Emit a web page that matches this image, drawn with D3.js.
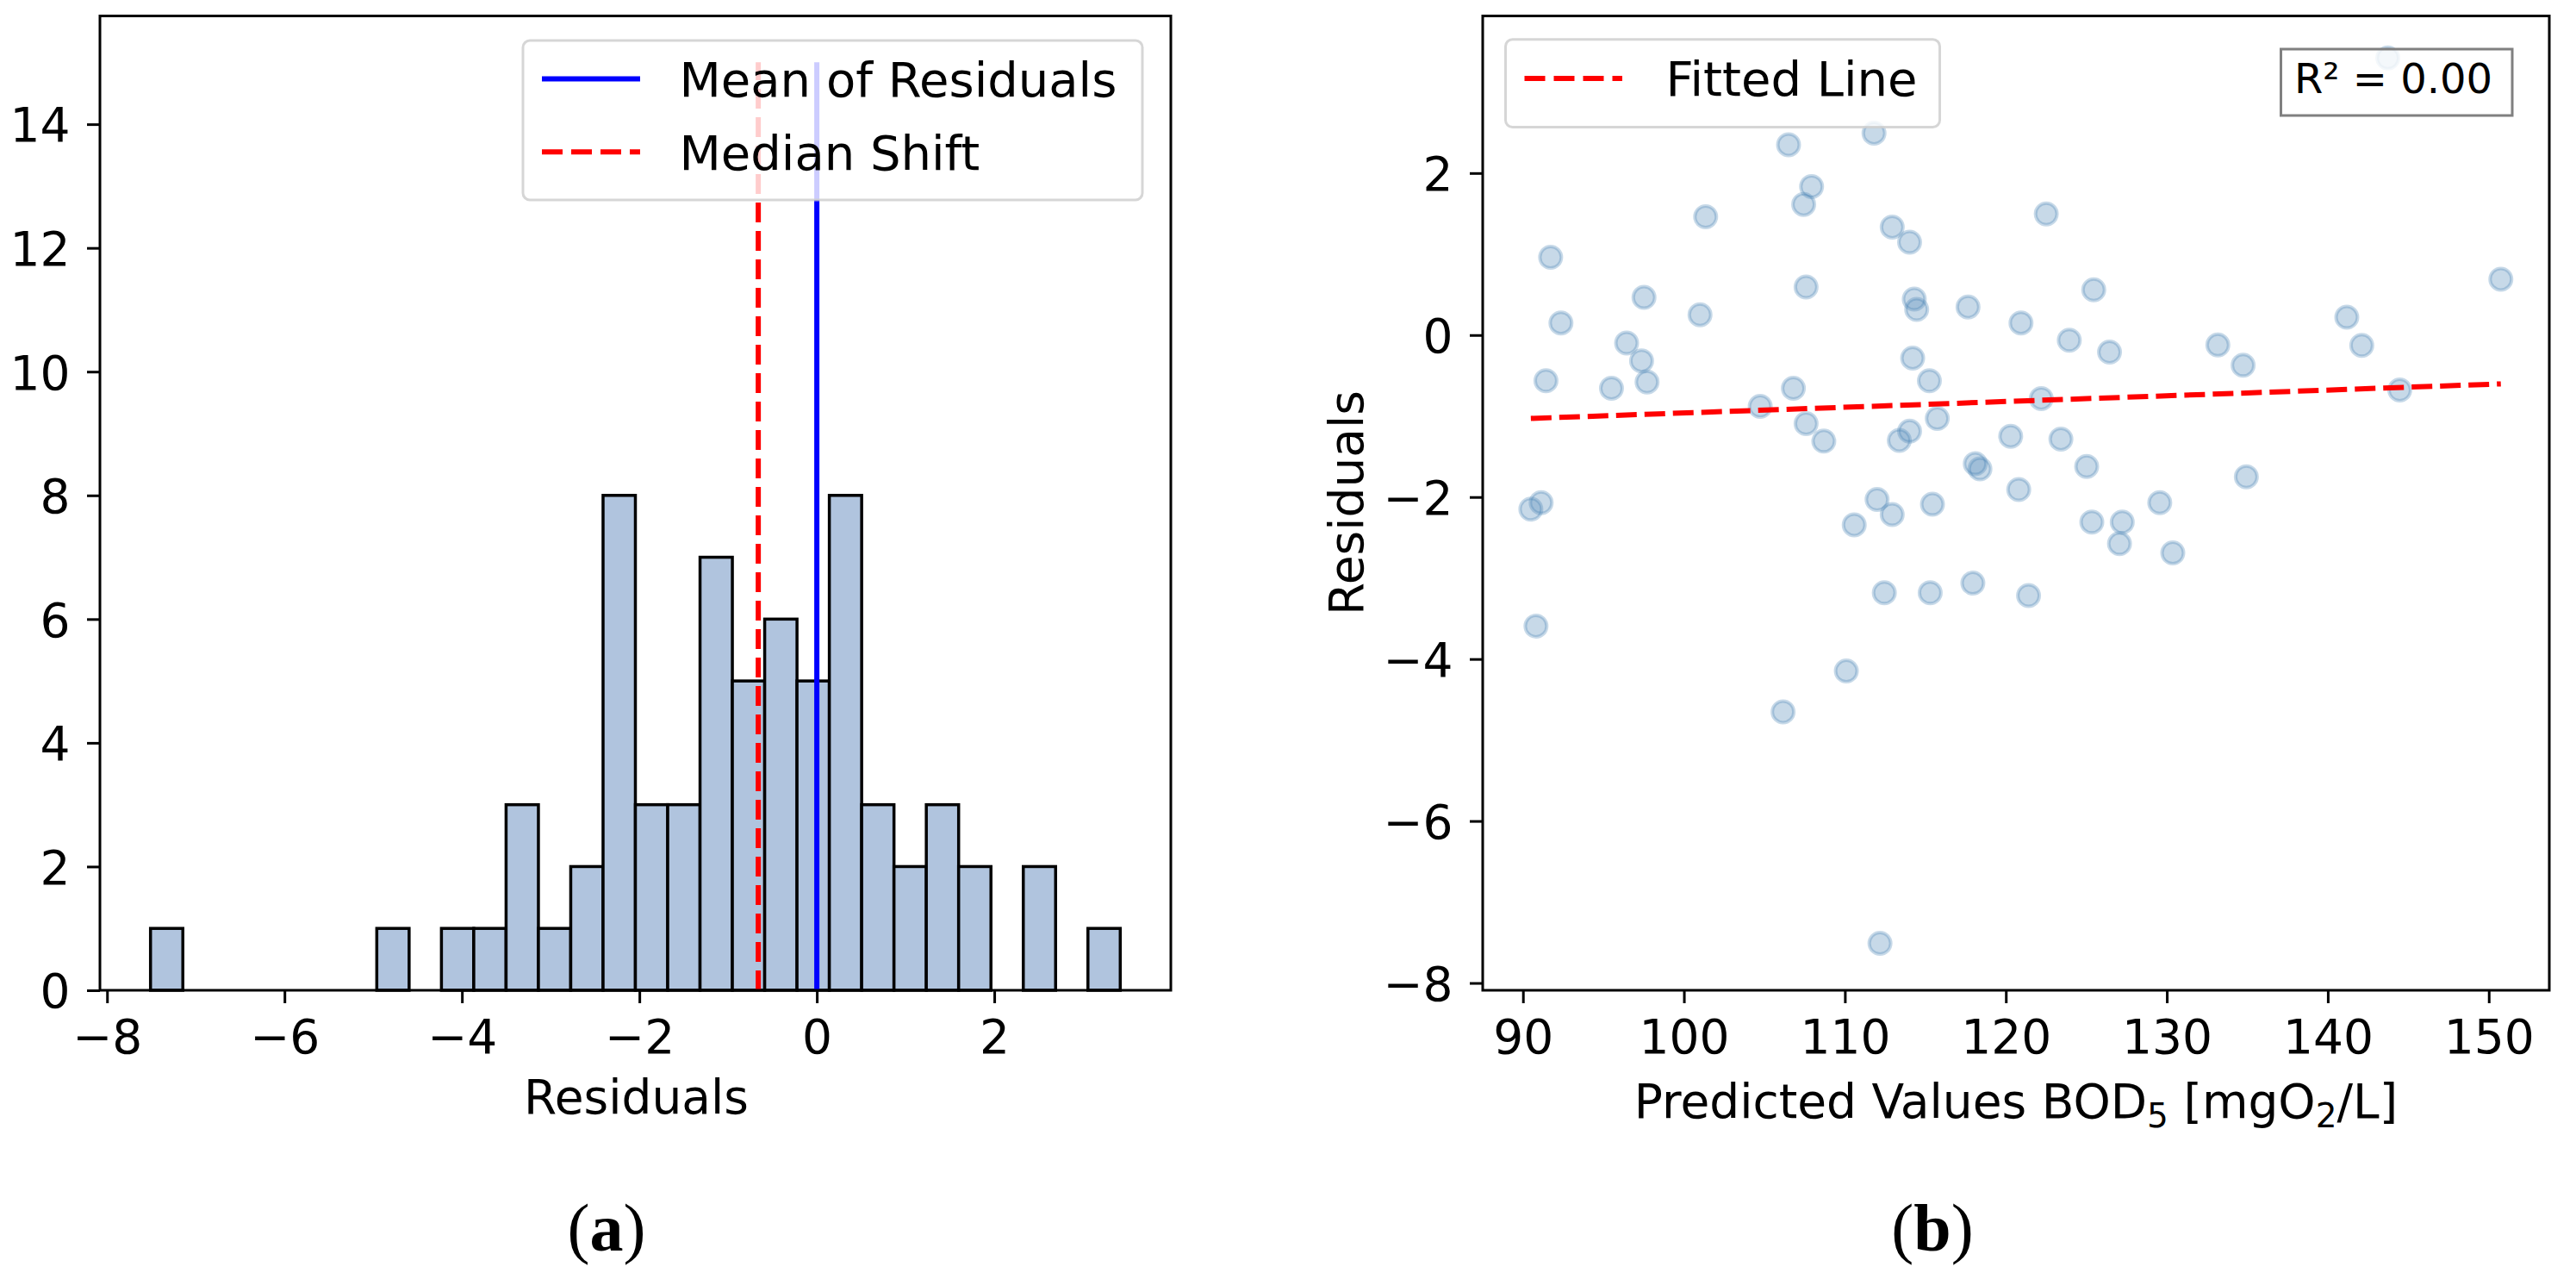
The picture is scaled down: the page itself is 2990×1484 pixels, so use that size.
<!DOCTYPE html>
<html>
<head>
<meta charset="utf-8">
<script src="https://cdn.jsdelivr.net/npm/d3@7"></script>
<style>
  html, body { margin: 0; padding: 0; background: #ffffff; }
  svg { display: block; }
</style>
</head>
<body>
<svg id="chart" width="2990" height="1484"></svg>
<script>
// ---------------- DATA ----------------
// Predicted BOD5 values (x of panel b) and their residuals (y of panel b, histogram of panel a)
const predicted = [
  91.72, 92.36, 91.43, 90.49, 91.13, 101.35, 97.52, 96.44, 97.37, 95.50,
  97.71, 101.0, 106.5, 107.93, 107.44, 107.59, 104.74, 106.8, 107.59, 108.69,
  111.81, 112.94, 114.02, 114.31, 114.46, 114.21, 115.25, 114.02, 113.38, 115.74,
  112.0, 112.94, 115.44, 110.58,
  143.73, 122.51, 150.75, 117.65, 125.46, 120.94, 123.94, 126.44, 133.17, 134.74,
  141.18, 142.11, 122.2, 144.47, 120.30, 123.42, 118.1, 118.39, 125.02, 120.8,
  134.94, 129.56, 125.34, 127.23,
  127.06, 130.37, 117.95, 121.41,
  90.81, 106.16, 110.09, 112.45, 115.3, 112.18
];
const residuals = [
  0.96, 0.15, -0.564, -2.15, -2.07, 1.461, 0.465, -0.098, -0.318, -0.657,
  -0.58, 0.25, 2.35, 1.834, 1.613, 0.593, -0.881, -0.657, -1.093, -1.31,
  2.494, 1.334, 1.147, 0.444, 0.317, -0.284, -0.564, -1.187, -1.30, -1.03,
  -2.03, -2.216, -2.089, -2.343,
  3.42, 1.495, 0.69, 0.347, 0.559, 0.15, -0.064, -0.21, -0.123, -0.373,
  0.22, -0.128, -0.784, -0.678, -1.25, -1.284, -1.589, -1.653, -1.623, -1.907,
  -1.75, -2.07, -2.309, -2.309,
  -2.576, -2.69, -3.063, -3.216,
  -3.593, -4.652, -4.148, -3.182, -3.182, -7.51
];
const histBinCount = 30;
const meanResidual = 0.0;        // blue solid line
const medianShift = -0.66;       // red dashed line
const refLineTop = 15;           // vertical lines span 0..15
const fitSlope = 0.00707;        // fitted line (panel b)
const fitIntercept = -1.669;
const rSquaredLabel = "R\u00B2 = 0.00";
const histXTicks = [-8, -6, -4, -2, 0, 2];
const histYTicks = [0, 2, 4, 6, 8, 10, 12, 14];
const scatXTicks = [90, 100, 110, 120, 130, 140, 150];
const scatYTicks = [-8, -6, -4, -2, 0, 2];
const legendA = [
  { label: "Mean of Residuals", color: "#0000ff", dash: null },
  { label: "Median Shift", color: "#ff0000", dash: "24,10" }
];
const legendB = [{ label: "Fitted Line", color: "#ff0000", dash: "24,10" }];

// ---------------- LAYOUT ----------------
const FONT = "'DejaVu Sans', sans-serif";
const FS = 55;
const svg = d3.select("#chart");

const panelA = { left: 116, right: 1359, top: 18.5, bottom: 1149 };
const panelB = { left: 1721, right: 2959, top: 18.5, bottom: 1149 };

function styleAxis(g, isLeft) {
  g.select(".domain").remove();
  g.selectAll(".tick line").attr("stroke", "#000").attr("stroke-width", 3);
  g.selectAll(".tick text")
    .attr("font-family", FONT)
    .attr("font-size", FS)
    .attr("fill", "#000");
  if (isLeft) g.selectAll(".tick text").attr("dy", "0.36em");
  g.attr("font-size", null).attr("font-family", null);
}

// ================= PANEL (a) : histogram =================
const xA = d3.scaleLinear().domain([-8.08, 3.99]).range([panelA.left, panelA.right]);
const yA = d3.scaleLinear().domain([0, 15.75]).range([panelA.bottom, panelA.top]);

const rMin = d3.min(residuals), rMax = d3.max(residuals);
const thresholds = d3.range(1, histBinCount).map(i => rMin + i * (rMax - rMin) / histBinCount);
const bins = d3.bin().domain([rMin, rMax]).thresholds(thresholds)(residuals);

const gA = svg.append("g");
gA.selectAll("rect.bar")
  .data(bins.filter(b => b.length > 0))
  .join("rect")
  .attr("class", "bar")
  .attr("x", b => xA(b.x0))
  .attr("width", b => xA(b.x1) - xA(b.x0))
  .attr("y", b => yA(b.length))
  .attr("height", b => yA(0) - yA(b.length))
  .attr("fill", "#b0c4de")
  .attr("stroke", "#000")
  .attr("stroke-width", 3.5);

// vertical reference lines
gA.append("line")
  .attr("x1", xA(meanResidual)).attr("x2", xA(meanResidual))
  .attr("y1", yA(0)).attr("y2", yA(refLineTop))
  .attr("stroke", "#0000ff").attr("stroke-width", 6);
gA.append("line")
  .attr("x1", xA(medianShift)).attr("x2", xA(medianShift))
  .attr("y1", yA(0)).attr("y2", yA(refLineTop))
  .attr("stroke", "#ff0000").attr("stroke-width", 6)
  .attr("stroke-dasharray", "23,10");

// spines
gA.append("rect")
  .attr("x", panelA.left).attr("y", panelA.top)
  .attr("width", panelA.right - panelA.left).attr("height", panelA.bottom - panelA.top)
  .attr("fill", "none").attr("stroke", "#000").attr("stroke-width", 3);

// axes
const axAx = gA.append("g").attr("transform", `translate(0,${panelA.bottom})`)
  .call(d3.axisBottom(xA).tickValues(histXTicks).tickSize(15).tickPadding(18.5).tickSizeOuter(0));
styleAxis(axAx, false);
const axAy = gA.append("g").attr("transform", `translate(${panelA.left},0)`)
  .call(d3.axisLeft(yA).tickValues(histYTicks).tickSize(15).tickPadding(19.5).tickSizeOuter(0));
styleAxis(axAy, true);

// x label
gA.append("text")
  .attr("x", 738.5).attr("y", 1291.5)
  .attr("text-anchor", "middle")
  .attr("font-family", FONT).attr("font-size", FS).attr("fill", "#000")
  .text("Residuals");

// legend (a)
const legA = gA.append("g");
legA.append("rect")
  .attr("x", 607).attr("y", 47).attr("width", 719).attr("height", 185).attr("rx", 8)
  .attr("fill", "#fff").attr("fill-opacity", 0.8)
  .attr("stroke", "#cccccc").attr("stroke-opacity", 0.8).attr("stroke-width", 3);
legendA.forEach((d, i) => {
  const cy = 91.5 + i * 84.8;
  legA.append("line")
    .attr("x1", 629).attr("x2", 743).attr("y1", cy).attr("y2", cy)
    .attr("stroke", d.color).attr("stroke-width", 6)
    .attr("stroke-dasharray", d.dash);
  legA.append("text")
    .attr("x", 788.5).attr("y", cy + 20.3)
    .attr("font-family", FONT).attr("font-size", 56).attr("fill", "#000")
    .text(d.label);
});

// ================= PANEL (b) : residual scatter =================
const xB = d3.scaleLinear().domain([87.5, 153.76]).range([panelB.left, panelB.right]);
const yB = d3.scaleLinear().domain([-8.09, 3.94]).range([panelB.bottom, panelB.top]);

const gB = svg.append("g");
const pts = predicted.map((p, i) => ({ x: p, y: residuals[i] }));
gB.selectAll("circle.pt")
  .data(pts)
  .join("circle")
  .attr("class", "pt")
  .attr("cx", d => xB(d.x))
  .attr("cy", d => yB(d.y))
  .attr("r", 12.5)
  .attr("fill", "#4682b4").attr("fill-opacity", 0.3)
  .attr("stroke", "#4682b4").attr("stroke-opacity", 0.3).attr("stroke-width", 4);

// fitted line
const xMin = d3.min(predicted), xMax = d3.max(predicted);
gB.append("line")
  .attr("x1", xB(xMin)).attr("y1", yB(fitIntercept + fitSlope * xMin))
  .attr("x2", xB(xMax)).attr("y2", yB(fitIntercept + fitSlope * xMax))
  .attr("stroke", "#ff0000").attr("stroke-width", 6)
  .attr("stroke-dasharray", "24,9");

// spines
gB.append("rect")
  .attr("x", panelB.left).attr("y", panelB.top)
  .attr("width", panelB.right - panelB.left).attr("height", panelB.bottom - panelB.top)
  .attr("fill", "none").attr("stroke", "#000").attr("stroke-width", 3);

const axBx = gB.append("g").attr("transform", `translate(0,${panelB.bottom})`)
  .call(d3.axisBottom(xB).tickValues(scatXTicks).tickSize(15).tickPadding(18.5).tickSizeOuter(0));
styleAxis(axBx, false);
const axBy = gB.append("g").attr("transform", `translate(${panelB.left},0)`)
  .call(d3.axisLeft(yB).tickValues(scatYTicks).tickSize(15).tickPadding(19.5).tickSizeOuter(0));
styleAxis(axBy, true);

// R² box
gB.append("rect")
  .attr("x", 2647.5).attr("y", 57).attr("width", 268.5).attr("height", 77)
  .attr("fill", "#fff").attr("fill-opacity", 0.8)
  .attr("stroke", "#808080").attr("stroke-width", 3);
gB.append("text")
  .attr("x", 2778).attr("y", 108.4).attr("text-anchor", "middle")
  .attr("font-family", FONT).attr("font-size", 48).attr("fill", "#000")
  .text(rSquaredLabel);

// legend (b)
const legB = gB.append("g");
legB.append("rect")
  .attr("x", 1747.5).attr("y", 45.8).attr("width", 504).attr("height", 101.7).attr("rx", 8)
  .attr("fill", "#fff").attr("fill-opacity", 0.8)
  .attr("stroke", "#cccccc").attr("stroke-opacity", 0.8).attr("stroke-width", 3);
legendB.forEach((d, i) => {
  const cy = 91 + i * 84.8;
  legB.append("line")
    .attr("x1", 1769.5).attr("x2", 1883).attr("y1", cy).attr("y2", cy)
    .attr("stroke", d.color).attr("stroke-width", 6)
    .attr("stroke-dasharray", d.dash);
  legB.append("text")
    .attr("x", 1933.4).attr("y", cy + 20.3)
    .attr("font-family", FONT).attr("font-size", 56).attr("fill", "#000")
    .text(d.label);
});

// axis labels
const xlabB = gB.append("text")
  .attr("x", 2340).attr("y", 1296.5).attr("text-anchor", "middle")
  .attr("font-family", FONT).attr("font-size", FS).attr("fill", "#000");
xlabB.append("tspan").text("Predicted Values BOD");
xlabB.append("tspan").attr("font-size", 39).attr("dy", 11).text("5");
xlabB.append("tspan").attr("dy", -11).text(" [mgO");
xlabB.append("tspan").attr("font-size", 39).attr("dy", 11).text("2");
xlabB.append("tspan").attr("dy", -11).text("/L]");

gB.append("text")
  .attr("transform", "translate(1582,583.5) rotate(-90)")
  .attr("text-anchor", "middle")
  .attr("font-family", FONT).attr("font-size", FS).attr("fill", "#000")
  .text("Residuals");

// ================= sub-figure captions =================
function caption(cx, letter) {
  const t = svg.append("text")
    .attr("x", cx).attr("y", 1451).attr("text-anchor", "middle")
    .attr("font-family", "'Liberation Serif', 'DejaVu Serif', serif")
    .attr("font-size", 78).attr("fill", "#000");
  t.append("tspan").text("(");
  t.append("tspan").attr("font-weight", "bold").text(letter);
  t.append("tspan").text(")");
}
caption(704, "a");
caption(2243, "b");
</script>
</body>
</html>
